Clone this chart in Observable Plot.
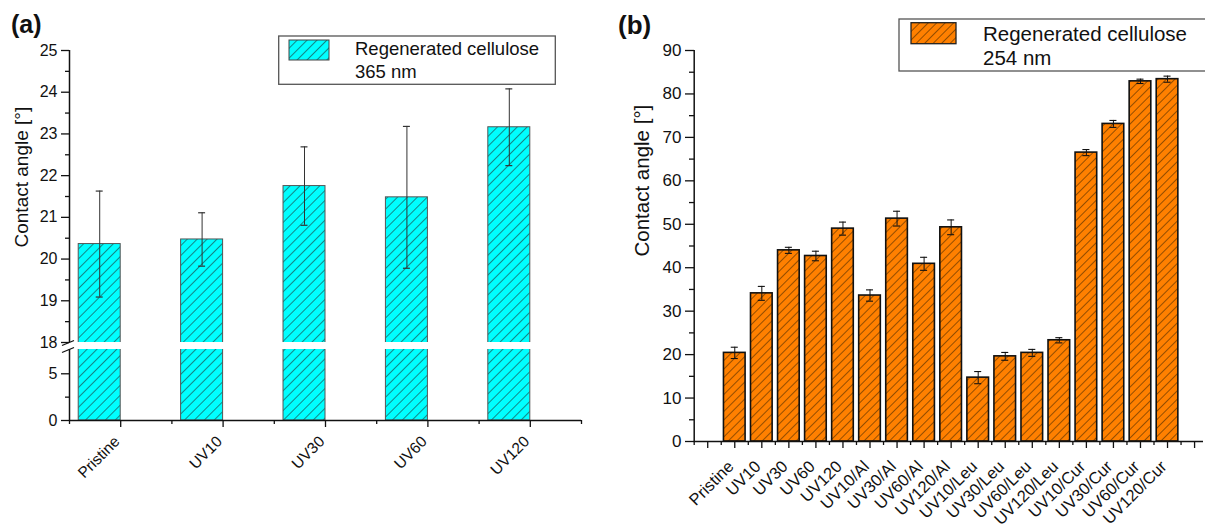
<!DOCTYPE html>
<html>
<head>
<meta charset="utf-8">
<script src="https://cdn.jsdelivr.net/npm/d3@7"></script>
<script src="https://cdn.jsdelivr.net/npm/@observablehq/plot@0.6"></script>
<style>
  body { margin: 0; background: #fff; font-family: "Liberation Sans", Arial, sans-serif; }
  #wrap { position: relative; width: 1205px; height: 526px; overflow: hidden; background: #fff; }
  .panel { position: absolute; top: 0; }
  #overlay { position: absolute; left: 0; top: 0; pointer-events: none; }
</style>
</head>
<body>
<svg width="0" height="0" style="position:absolute">
  <defs>
    <pattern id="hatchA" patternUnits="userSpaceOnUse" width="7" height="7" patternTransform="rotate(45)">
      <rect width="7" height="7" fill="#00ffff"></rect>
      <line x1="0" y1="0" x2="0" y2="7" stroke="#222" stroke-width="1.1"></line>
    </pattern>
    <pattern id="hatchB" patternUnits="userSpaceOnUse" width="6" height="6" patternTransform="rotate(45)">
      <rect width="6" height="6" fill="#ff8000"></rect>
      <line x1="0" y1="0" x2="0" y2="6" stroke="#2a1a00" stroke-width="1"></line>
    </pattern>
  </defs>
</svg>
<div id="wrap">
  <div id="pa" class="panel" style="left:0px"></div>
  <div id="pb" class="panel" style="left:600px"></div>
  <svg id="overlay" width="1205" height="526" font-family="Liberation Sans, Arial, sans-serif">
    <text x="11" y="33" font-size="25" font-weight="bold" fill="#111">(a)</text>
    <text x="618" y="34" font-size="26" font-weight="bold" fill="#111">(b)</text>
    <rect x="278.7" y="36" width="276.6" height="48.3" fill="#fff" stroke="#555" stroke-width="1.3"></rect>
    <rect x="289" y="40" width="40" height="20" fill="url(#hatchA)" stroke="#444" stroke-width="1"></rect>
    <text x="355" y="55" font-size="18.5" fill="#111">Regenerated cellulose</text>
    <text x="355" y="78" font-size="18.5" fill="#111">365 nm</text>
    <rect x="899" y="19" width="330" height="52" fill="#fff" stroke="#555" stroke-width="1.3"></rect>
    <rect x="911" y="22.7" width="45" height="21" fill="url(#hatchB)" stroke="#222" stroke-width="1.3"></rect>
    <text x="983" y="40.7" font-size="20.5" fill="#111">Regenerated cellulose</text>
    <text x="983" y="65" font-size="20.5" fill="#111">254 nm</text>
  </svg>
</div>
<script>
// ---------- Panel (a): 365 nm ----------
const catsA = ["Pristine", "UV10", "UV30", "UV60", "UV120"];
const valsA = [20.36, 20.47, 21.75, 21.48, 23.16];
const errsA = [1.27, 0.64, 0.94, 1.70, 0.92];
const ticksA = [0, 5, 18, 19, 20, 21, 22, 23, 24, 25];
const minorTicksA = [2.5, 18.5, 19.5, 20.5, 21.5, 22.5, 23.5, 24.5];

// ---------- Panel (b): 254 nm ----------
const catsB = ["Pristine", "UV10", "UV30", "UV60", "UV120",
  "UV10/Al", "UV30/Al", "UV60/Al", "UV120/Al",
  "UV10/Leu", "UV30/Leu", "UV60/Leu", "UV120/Leu",
  "UV10/Cur", "UV30/Cur", "UV60/Cur", "UV120/Cur"];
const valsB = [20.4, 34.1, 44.0, 42.7, 49.0, 33.6, 51.3, 40.9, 49.3, 14.7, 19.6, 20.4, 23.3, 66.5, 73.1, 82.9, 83.4];
const errsB = [1.3, 1.6, 0.7, 1.1, 1.5, 1.3, 1.7, 1.5, 1.7, 1.4, 0.9, 0.8, 0.6, 0.7, 0.8, 0.5, 0.7];
const ticksB = [0, 10, 20, 30, 40, 50, 60, 70, 80, 90];
const minorTicksB = [5, 15, 25, 35, 45, 55, 65, 75, 85];

const FONT = "Liberation Sans, Arial, sans-serif";
const INK = "#111";

const A = catsA.map((c, i) => ({c, i, v: valsA[i], e: errsA[i]}));
const B = catsB.map((c, i) => ({c, i, v: valsB[i], e: errsB[i]}));

// Panel (a)
const aBar0 = 0.09, aBar1 = 0.5, aMid = (aBar0 + aBar1) / 2, aCap = 0.034;
const plotA = Plot.plot({
  width: 600, height: 526,
  marginLeft: 69, marginRight: 19, marginTop: 50, marginBottom: 106,
  style: {fontFamily: FONT, fontSize: "16px", color: INK, background: "transparent", overflow: "visible"},
  x: {type: "linear", domain: [0, 5], range: [69, 581], label: null},
  y: {type: "linear", domain: [0, 7.6, 18, 25], range: [420, 349, 342, 50], label: null},
  marks: [
    Plot.rectY(A, {x1: d => d.i + aBar0, x2: d => d.i + aBar1, y1: 0, y2: "v",
      fill: "url(#hatchA)", stroke: "#555", strokeWidth: 1}),
    Plot.rectY([0], {x1: 0.04, x2: 5, y1: 7.6, y2: 18, fill: "white"}),
    Plot.ruleX(A, {x: d => d.i + aMid, y1: d => d.v - d.e, y2: d => d.v + d.e, stroke: "#333", strokeWidth: 1}),
    Plot.ruleY(A, {y: d => d.v + d.e, x1: d => d.i + aMid - aCap, x2: d => d.i + aMid + aCap, stroke: "#333", strokeWidth: 1.2}),
    Plot.ruleY(A, {y: d => d.v - d.e, x1: d => d.i + aMid - aCap, x2: d => d.i + aMid + aCap, stroke: "#333", strokeWidth: 1.2}),
    Plot.ruleY([0], {x1: 0, x2: 5, stroke: INK, strokeWidth: 1.5}),
    Plot.ruleX([0], {y1: 0, y2: 7.6, stroke: INK, strokeWidth: 1.5}),
    Plot.ruleX([0], {y1: 18, y2: 25, stroke: INK, strokeWidth: 1.5}),
    Plot.axisY({ticks: ticksA, tickSize: 8, tickPadding: 4, strokeWidth: 1.3, label: null, fontSize: 16}),
    Plot.axisY({ticks: minorTicksA, tickSize: 4, tickFormat: () => "", strokeWidth: 1.3, label: null}),
    Plot.axisX({ticks: A.map(d => d.i + 0.5), tickSize: 7, tickFormat: () => "", strokeWidth: 1.3, label: null}),
    Plot.axisX({ticks: d3.range(0, 6), tickSize: 4, tickFormat: () => "", strokeWidth: 1.3, label: null}),
    Plot.text(A, {x: d => d.i + 0.5, frameAnchor: "bottom", text: "c", rotate: -45, textAnchor: "end", dy: 22, fontSize: 15.5}),
    Plot.text(["Contact angle [°]"], {frameAnchor: "left", rotate: -90, dx: -48, dy: 12, fontSize: 19})
  ]
});
document.getElementById("pa").append(plotA);

// axis break marks
{
  const sx = plotA.scale("x"), sy = plotA.scale("y");
  const x0 = sx.apply(0);
  const g = d3.select(plotA).append("g").attr("stroke", INK).attr("stroke-width", 1.3);
  for (const v of [18, 7.6]) {
    const cy = sy.apply(v) + 1;
    g.append("line").attr("x1", x0 - 7).attr("y1", cy + 2.5).attr("x2", x0 + 5).attr("y2", cy - 2.5);
  }
}

// Panel (b)
const bHalf = 0.4, bCap = 0.13;
const plotB = Plot.plot({
  width: 605, height: 526,
  marginLeft: 94, marginRight: 2, marginTop: 50, marginBottom: 85,
  style: {fontFamily: FONT, fontSize: "17px", color: INK, background: "transparent", overflow: "visible"},
  x: {type: "linear", domain: [-1.5, 17.33], range: [93.7, 603], label: null},
  y: {type: "linear", domain: [0, 90], range: [441, 50], label: null},
  marks: [
    Plot.rectY(B, {x1: d => d.i - bHalf, x2: d => d.i + bHalf, y1: 0, y2: "v",
      fill: "url(#hatchB)", stroke: INK, strokeWidth: 1.6}),
    Plot.ruleX(B, {x: "i", y1: d => d.v - d.e, y2: d => d.v + d.e, stroke: INK, strokeWidth: 1}),
    Plot.ruleY(B, {y: d => d.v + d.e, x1: d => d.i - bCap, x2: d => d.i + bCap, stroke: INK, strokeWidth: 1.1}),
    Plot.ruleY(B, {y: d => d.v - d.e, x1: d => d.i - bCap, x2: d => d.i + bCap, stroke: INK, strokeWidth: 1.1}),
    Plot.ruleY([0], {x1: -1.5, x2: 17.33, stroke: INK, strokeWidth: 1.5}),
    Plot.ruleX([-1.5], {y1: 0, y2: 90, stroke: INK, strokeWidth: 1.5}),
    Plot.axisY({ticks: ticksB, tickSize: 9, tickPadding: 4, strokeWidth: 1.3, label: null, fontSize: 17}),
    Plot.axisY({ticks: minorTicksB, tickSize: 5, tickFormat: () => "", strokeWidth: 1.3, label: null}),
    Plot.axisX({ticks: d3.range(-1, 18), tickSize: 7, tickFormat: () => "", strokeWidth: 1.3, label: null}),
    Plot.axisX({ticks: d3.range(-1.5, 17, 1), tickSize: 4, tickFormat: () => "", strokeWidth: 1.3, label: null}),
    Plot.text(B, {x: "i", frameAnchor: "bottom", text: "c", rotate: -45, textAnchor: "end", dy: 26, fontSize: 16.5}),
    Plot.text(["Contact angle [°]"], {frameAnchor: "left", rotate: -90, dx: -52, dy: 10.5, fontSize: 20.5})
  ]
});
document.getElementById("pb").append(plotB);
</script>
</body>
</html>
